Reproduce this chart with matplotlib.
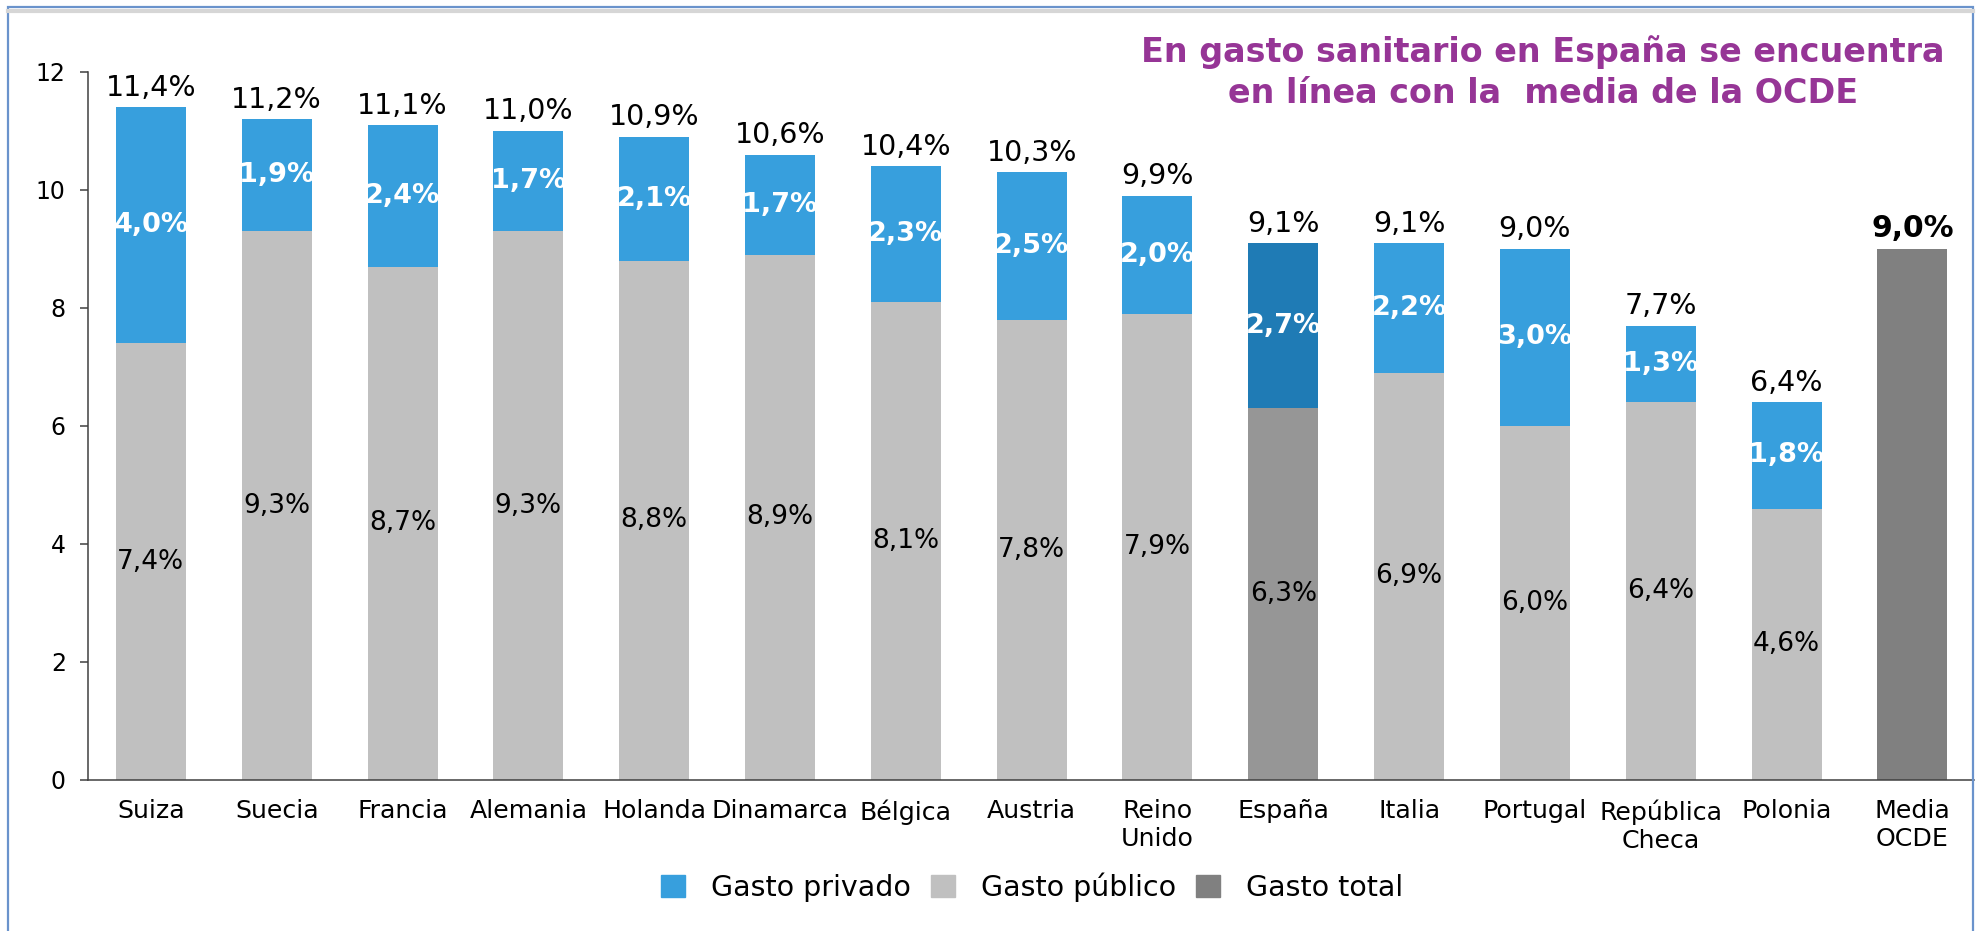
import matplotlib
matplotlib.use("Agg")
import matplotlib.pyplot as plt
from matplotlib.patches import Rectangle, Patch
from matplotlib.lines import Line2D

plt.rcParams['font.family'] = ['DejaVu Sans']

# data
countries = ["Suiza", "Suecia", "Francia", "Alemania", "Holanda", "Dinamarca",
             "Bélgica", "Austria", "Reino\nUnido", "España", "Italia", "Portugal",
             "República\nCheca", "Polonia"]
gasto_publico = [7.4, 9.3, 8.7, 9.3, 8.8, 8.9, 8.1, 7.8, 7.9, 6.3, 6.9, 6.0, 6.4, 4.6]
gasto_privado = [4.0, 1.9, 2.4, 1.7, 2.1, 1.7, 2.3, 2.5, 2.0, 2.7, 2.2, 3.0, 1.3, 1.8]
gasto_total = [11.4, 11.2, 11.1, 11.0, 10.9, 10.6, 10.4, 10.3, 9.9, 9.1, 9.1, 9.0, 7.7, 6.4]
media_label = "Media\nOCDE"
media_total = 9.0
highlight = "España"

title = "En gasto sanitario en España se encuentra\nen línea con la  media de la OCDE"

c_priv = "#379FDD"
c_priv_hl = "#1F7BB5"
c_pub = "#C0C0C0"
c_pub_hl = "#969696"
c_total = "#808080"


def fmt(v):
    return f"{v:.1f}%".replace(".", ",")


fig = plt.figure(figsize=(19.77, 9.31), dpi=100)
ax = fig.add_axes([88 / 1977, 0.1622, (1974 - 88) / 1977, 0.7605])

w = 0.556
xs = list(range(len(countries)))
pub_cols = [c_pub_hl if c == highlight else c_pub for c in countries]
priv_cols = [c_priv_hl if c == highlight else c_priv for c in countries]
# private segment fills up to the total shown above each bar
priv_h = [t - p for t, p in zip(gasto_total, gasto_publico)]

ax.bar(xs, gasto_publico, width=w, color=pub_cols, zorder=2)
ax.bar(xs, priv_h, width=w, bottom=gasto_publico, color=priv_cols, zorder=2)
xm = len(countries)
ax.bar([xm], [media_total], width=w, color=c_total, zorder=2)

for i, x in enumerate(xs):
    pub = gasto_publico[i]
    top = gasto_total[i]
    ax.text(x, pub / 2, fmt(pub), ha="center", va="center", fontsize=19, color="black")
    ax.text(x, (pub + top) / 2, fmt(gasto_privado[i]), ha="center", va="center",
            fontsize=19.5, color="white", fontweight="bold")
    ax.annotate(fmt(top), (x, top), xytext=(0, 4),
                textcoords="offset points", ha="center", va="bottom", fontsize=20.5)

ax.annotate(fmt(media_total), (xm, media_total), xytext=(0, 4),
            textcoords="offset points", ha="center", va="bottom", fontsize=21.5,
            fontweight="bold")

ax.set_xlim(-0.5, xm + 0.49)
ax.set_ylim(0, 12)
ax.set_yticks(range(0, 13, 2))
ax.set_xticks(xs + [xm])
ax.set_xticklabels(countries + [media_label])
ax.tick_params(axis="x", length=0, pad=14, labelsize=18.2)
ax.tick_params(axis="y", length=6, width=1.1, pad=10, labelsize=17, color="#404040")
for s in ["top", "right"]:
    ax.spines[s].set_visible(False)
for s in ["left", "bottom"]:
    ax.spines[s].set_color("#404040")
    ax.spines[s].set_linewidth(1.1)

handles = [Patch(color=c_priv, label="Gasto privado"),
           Patch(color=c_pub, label="Gasto público"),
           Patch(color=c_total, label="Gasto total")]
fig.legend(handles=handles, loc="center", bbox_to_anchor=(0.522, 0.047), ncol=3,
           frameon=False, fontsize=20.5, handlelength=0.85, handleheight=0.85,
           handletextpad=0.9, columnspacing=0.7)

fig.text(0.7805, 0.922, title, ha="center", va="center", multialignment="center",
         fontsize=24, fontweight="bold", color="#963596", linespacing=1.28)

# frame around the figure
fig.add_artist(Line2D([8 / 1977, 1973 / 1977], [1 - 11 / 931, 1 - 11 / 931],
                      transform=fig.transFigure, color="#D6D6D6", lw=3))
fig.add_artist(Rectangle((8 / 1977, -0.05), (1973 - 8) / 1977, 1.05 - 7 / 931,
                         transform=fig.transFigure, fill=False,
                         edgecolor="#6A93CC", lw=1.6))

fig.savefig("out.png", dpi=100)
